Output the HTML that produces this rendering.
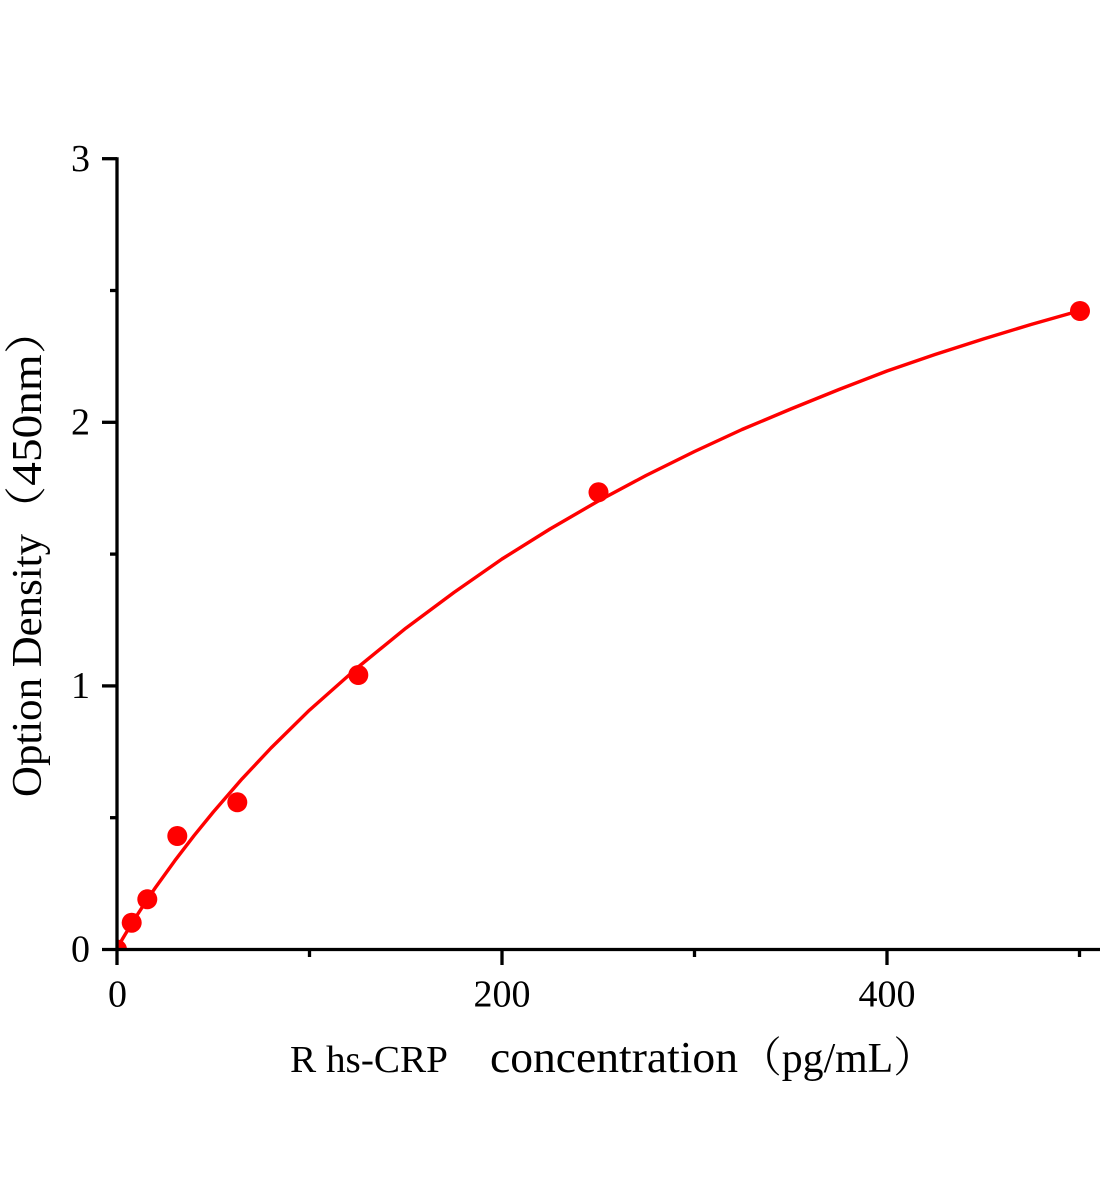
<!DOCTYPE html>
<html>
<head>
<meta charset="utf-8">
<style>
  html, body { margin: 0; padding: 0; background: #ffffff; }
  body { width: 1104px; height: 1200px; overflow: hidden; }
  svg { display: block; }
  text { font-family: "Liberation Serif", "Noto Serif CJK SC", serif; fill: #000; }
</style>
</head>
<body>
<svg width="1104" height="1200" viewBox="0 0 1104 1200" xmlns="http://www.w3.org/2000/svg">
  <defs>
    <clipPath id="plot">
      <rect x="117" y="0" width="1000" height="949.5"/>
    </clipPath>
  </defs>
  <rect x="0" y="0" width="1104" height="1200" fill="#ffffff"/>

  <!-- fitted curve -->
  <polyline fill="none" stroke="#ff0000" stroke-width="3.4" stroke-linejoin="round" stroke-linecap="round"
    points="117,949.5 118.9,945.2 122.8,938.4 128.6,928.7 136.3,916.4 145.9,901.6 155.5,887.5 174.8,860.7 194.0,835.7 213.3,812.0 242.1,778.8 271,748 309.5,710.1 357.6,667.5 405.8,628.2 453.9,592.5 502,559 550,529 598.3,501 646,475.5 694.5,451.5 742,429.5 790.8,409 839,389.5 887,371 935,354.5 983.3,339 1031,324.5 1079.5,310.7"/>

  <!-- data markers -->
  <g fill="#ff0000" clip-path="url(#plot)">
    <circle cx="117" cy="949.5" r="10"/>
    <circle cx="131.7" cy="922.7" r="10"/>
    <circle cx="147.3" cy="899.3" r="10"/>
    <circle cx="177.3" cy="836" r="10"/>
    <circle cx="237.3" cy="802.3" r="10"/>
    <circle cx="358.3" cy="675" r="10"/>
    <circle cx="598.5" cy="492.3" r="10"/>
    <circle cx="1080" cy="311" r="10"/>
  </g>

  <!-- axes -->
  <g stroke="#000" stroke-width="3.3" fill="none">
    <line x1="117" y1="157.2" x2="117" y2="965"/>
    <line x1="102" y1="949.5" x2="1100" y2="949.5"/>
    <!-- y major ticks -->
    <line x1="102" y1="158.7" x2="117" y2="158.7"/>
    <line x1="102" y1="422.3" x2="117" y2="422.3"/>
    <line x1="102" y1="685.9" x2="117" y2="685.9"/>
    <!-- y minor ticks -->
    <line x1="110" y1="290.5" x2="117" y2="290.5"/>
    <line x1="110" y1="554.1" x2="117" y2="554.1"/>
    <line x1="110" y1="817.7" x2="117" y2="817.7"/>
    <!-- x major ticks -->
    <line x1="502" y1="949.5" x2="502" y2="965"/>
    <line x1="887" y1="949.5" x2="887" y2="965"/>
    <!-- x minor ticks -->
    <line x1="309.5" y1="949.5" x2="309.5" y2="957"/>
    <line x1="694.5" y1="949.5" x2="694.5" y2="957"/>
    <line x1="1079.5" y1="949.5" x2="1079.5" y2="957"/>
  </g>

  <!-- y tick labels -->
  <g font-size="38" text-anchor="end">
    <text x="90" y="171">3</text>
    <text x="90" y="434.5">2</text>
    <text x="90" y="698">1</text>
    <text x="90" y="961.5">0</text>
  </g>

  <!-- x tick labels -->
  <g font-size="38" text-anchor="middle">
    <text x="117.5" y="1006.5">0</text>
    <text x="502" y="1006.5">200</text>
    <text x="887" y="1006.5">400</text>
  </g>

  <!-- x axis title -->
  <text x="290" y="1072" font-size="38" textLength="158" lengthAdjust="spacingAndGlyphs">R hs-CRP</text>
  <text x="490" y="1072" font-size="44" textLength="248" lengthAdjust="spacingAndGlyphs">concentration</text>
  <text x="740" y="1072" font-size="42" textLength="195" lengthAdjust="spacingAndGlyphs">（pg/mL）</text>

  <!-- y axis title -->
  <text transform="translate(41,797) rotate(-90)" font-size="42" textLength="263" lengthAdjust="spacingAndGlyphs">Option Density</text>
  <text transform="translate(41,533) rotate(-90)" font-size="42" textLength="226" lengthAdjust="spacingAndGlyphs">（450nm）</text>
</svg>
</body>
</html>
